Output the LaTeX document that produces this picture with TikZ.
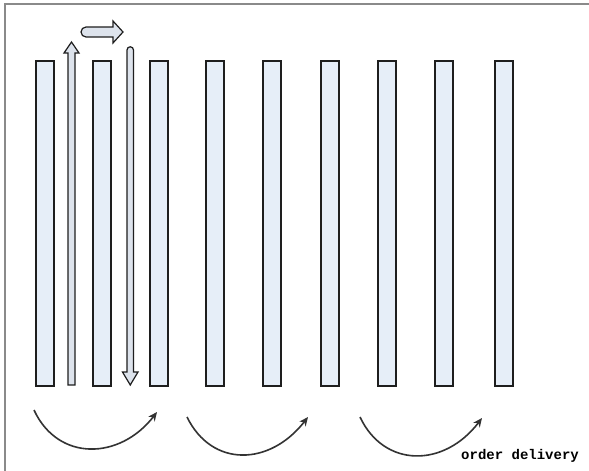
\documentclass[tikz,border=0pt]{standalone}
\usepackage{fontspec}
\newfontfamily\monofont{Liberation Mono}
\usetikzlibrary{arrows.meta}
\definecolor{rackfill}{HTML}{E6EEF8}
\definecolor{rackedge}{HTML}{1E1E1E}
\definecolor{framegray}{HTML}{8A8A8A}
\definecolor{arrowfill}{HTML}{DDE3EC}
\definecolor{curvegray}{HTML}{333333}
\tikzset{
  rack/.style={draw=rackedge, fill=rackfill, line width=1.6pt, minimum width=18pt, minimum height=325pt, inner sep=0pt, anchor=north west},
  blockarrow/.style={draw=rackedge, fill=arrowfill, line width=1.2pt, line join=miter},
  routecurve/.style={draw=curvegray, line width=1.6pt, -{Stealth[length=9pt,width=8pt]}},
  label/.style={font=\monofont\bfseries\fontsize{14pt}{16pt}\selectfont, inner sep=0pt, anchor=west}
}
\begin{document}
\begin{tikzpicture}[x=1pt,y=-1pt]
\useasboundingbox (0,0) rectangle (589,471);
\fill[white] (0,0) rectangle (589,471);
% frame
\draw[framegray, line width=2pt] (5,471) -- (5,4) -- (589,4);
% racks
\foreach \i/\x in {1/35,2/92,3/149,4/205,5/262,6/320,7/377,8/434,9/494}{
  \node[rack] (r\i) at (\x,60) {};
}
% up arrow
\draw[blockarrow] (68,385) -- (68,53) -- (64,53) -- (71.5,42) -- (79,53) -- (75,53) -- (75,385) -- cycle;
% right arrow
\draw[blockarrow] (86,27) -- (113,27) -- (113,21) -- (123,32) -- (113,43) -- (113,37) -- (86,37) arc[start angle=90, end angle=270, radius=5] -- cycle;
% down arrow
\draw[blockarrow] (127,372) -- (127,50) arc[start angle=180, end angle=360, radius=3.25] -- (133.5,372) -- (138,372) -- (130.25,385) -- (122.5,372) -- cycle;
% curved arrows
\coordinate (a1) at (34,410); \coordinate (b1) at (157,412);
\coordinate (a2) at (187,417); \coordinate (b2) at (308,417);
\coordinate (a3) at (360,417); \coordinate (b3) at (482,418);
\draw[routecurve] (a1) .. controls (58,462) and (120,460) .. (b1);
\draw[routecurve] (a2) .. controls (212,468) and (270,466) .. (b2);
\draw[routecurve] (a3) .. controls (384,468) and (444,468) .. (b3);
\node[label] (od) at (461,456) {order delivery};
\end{tikzpicture}
\end{document}
